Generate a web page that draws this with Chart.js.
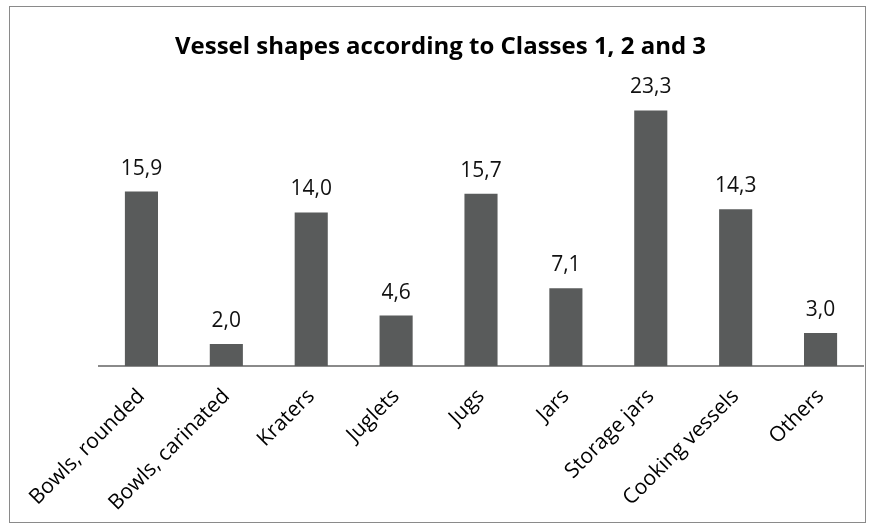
<!DOCTYPE html>
<html>
<head>
<meta charset="utf-8">
<script src="https://cdn.jsdelivr.net/npm/chart.js@4"></script>
<style>
  html, body { margin: 0; padding: 0; background: #fff; }
  #wrap {
    position: absolute; left: 9px; top: 6px;
    width: 855px; height: 515px;
    border: 1px solid #8a8a8a;
  }
</style>
</head>
<body>
<div id="wrap"><canvas id="vesselChart"></canvas></div>
<script>
const categories = ['Bowls, rounded', 'Bowls, carinated', 'Kraters', 'Juglets', 'Jugs', 'Jars', 'Storage jars', 'Cooking vessels', 'Others'];
const percentages = [15.9, 2.0, 14.0, 4.6, 15.7, 7.1, 23.3, 14.3, 3.0];
const chartTitle = 'Vessel shapes according to Classes 1, 2 and 3';

// value labels above each bar, decimal comma
const barLabels = {
    id: 'barLabels',
    afterDatasetsDraw(chart) {
        const ctx = chart.ctx;
        const meta = chart.getDatasetMeta(0);
        ctx.save();
        ctx.font = '21px "Open Sans"';
        ctx.fillStyle = '#111';
        ctx.textAlign = 'center';
        ctx.textBaseline = 'alphabetic';
        meta.data.forEach(function(bar, i) {
            const txt = percentages[i].toFixed(1).replace('.', ',');
            ctx.fillText(txt, bar.x, bar.y - 17);
        });
        ctx.restore();
    }
};

document.addEventListener('DOMContentLoaded', function() {
    const ctx = document.getElementById('vesselChart').getContext('2d');
    new Chart(ctx, {
        type: 'bar',
        data: {
            labels: categories,
            datasets: [{
                data: percentages,
                backgroundColor: '#595b5b',
                borderWidth: 0,
                barPercentage: 0.39,
                categoryPercentage: 1
            }]
        },
        options: {
            responsive: true,
            maintainAspectRatio: false,
            animation: false,
            layout: { padding: { left: 8, right: 2, top: 0, bottom: 0 } },
            plugins: {
                legend: { display: false },
                tooltip: { enabled: false },
                title: {
                    display: true,
                    text: chartTitle,
                    color: '#000',
                    font: { family: 'Open Sans', size: 24, weight: 'bold' },
                    padding: { top: 26, bottom: 30 }
                }
            },
            scales: {
                x: {
                    grid: { display: false, drawTicks: false },
                    border: { color: '#8a8a8a', width: 2 },
                    ticks: {
                        color: '#000',
                        font: { family: 'Open Sans', size: 21 },
                        minRotation: 45,
                        maxRotation: 45,
                        padding: 18
                    },
                    afterFit(scale) { scale.height = 156; }
                },
                y: {
                    min: 0,
                    max: 25,
                    grid: { display: false },
                    border: { display: false },
                    ticks: { display: false },
                    afterFit(scale) { scale.width = 81; }
                }
            }
        },
        plugins: [barLabels]
    });
});
</script>
</body>
</html>
